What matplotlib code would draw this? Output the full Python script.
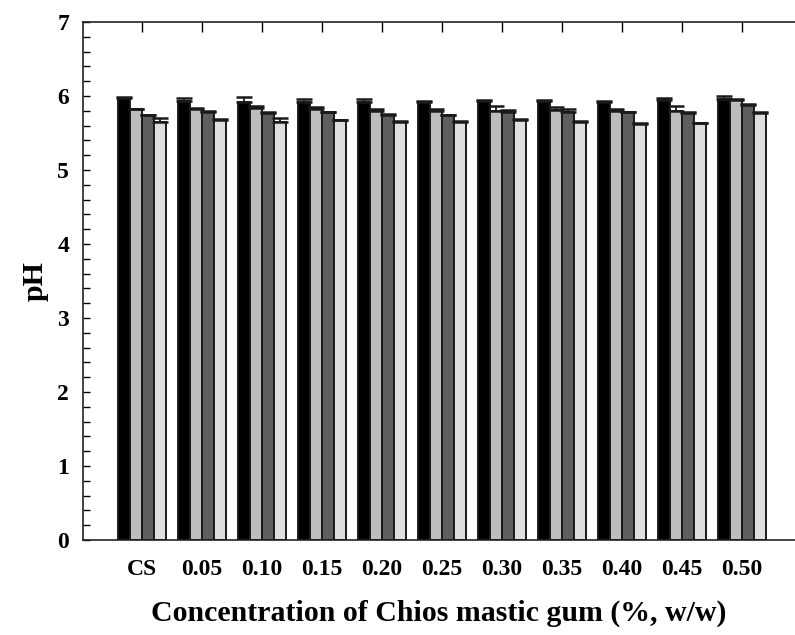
import numpy as np
import matplotlib.pyplot as plt
from matplotlib.ticker import MultipleLocator

# Concentrations on the x axis
categories = ["CS", "0.05", "0.10", "0.15", "0.20", "0.25", "0.30", "0.35", "0.40", "0.45", "0.50"]

# pH values for the four storage times (one list per bar shade)
ph_day1 = [5.97, 5.93, 5.92, 5.92, 5.92, 5.92, 5.93, 5.93, 5.92, 5.95, 5.96]
ph_day2 = [5.82, 5.83, 5.84, 5.82, 5.80, 5.80, 5.80, 5.81, 5.80, 5.80, 5.95]
ph_day3 = [5.74, 5.79, 5.77, 5.78, 5.75, 5.74, 5.78, 5.78, 5.78, 5.77, 5.88]
ph_day4 = [5.65, 5.68, 5.65, 5.67, 5.65, 5.65, 5.68, 5.65, 5.62, 5.63, 5.77]

# upper error bars
err_day1 = [0.01, 0.04, 0.06, 0.04, 0.04, 0.01, 0.01, 0.01, 0.01, 0.02, 0.04]
err_day2 = [0.01, 0.01, 0.02, 0.03, 0.03, 0.03, 0.07, 0.04, 0.03, 0.07, 0.01]
err_day3 = [0.01, 0.01, 0.01, 0.01, 0.01, 0.01, 0.03, 0.04, 0.01, 0.02, 0.01]
err_day4 = [0.05, 0.01, 0.05, 0.01, 0.01, 0.01, 0.01, 0.01, 0.01, 0.01, 0.01]

colors = ["#000000", "#bdbdbd", "#5f5f5f", "#dedede"]

plt.rcParams["font.family"] = ["Liberation Serif", "DejaVu Serif"]
plt.rcParams["font.weight"] = "bold"

fig = plt.figure(figsize=(7.95, 6.35), dpi=100)
ax = fig.add_axes([83 / 795, 1 - 540 / 635, 1 - 83 / 795, (540 - 22) / 635])

x = np.arange(len(categories))
width = 0.2
series = [ph_day1, ph_day2, ph_day3, ph_day4]
errors = [err_day1, err_day2, err_day3, err_day4]
for i, (vals, errs) in enumerate(zip(series, errors)):
    pos = x + (i - 1.5) * width
    ax.bar(pos, vals, width, color=colors[i], edgecolor="#1a1a1a", linewidth=1.4, zorder=2)
    ax.errorbar(pos, vals, yerr=[np.zeros(len(errs)), errs], fmt="none",
                ecolor="#1a1a1a", elinewidth=1.3, capsize=6, capthick=1.8, zorder=3)

ax.set_xlim(-0.983, (795 - 142) / 60)
ax.set_ylim(0, 7)
ax.set_xticks(x)
ax.set_xticklabels(categories, fontsize=17, fontweight="bold")
ax.yaxis.set_major_locator(MultipleLocator(1))
ax.yaxis.set_minor_locator(MultipleLocator(0.2))
ax.tick_params(axis="y", which="both", direction="in", length=5, width=1, labelsize=17, pad=10)
ax.tick_params(axis="x", direction="in", length=0, pad=14)
for lbl in ax.get_yticklabels():
    lbl.set_fontweight("bold")

# top ticks at the category positions
sec = ax.secondary_xaxis("top")
sec.set_xticks(x)
sec.set_xticklabels([])
sec.tick_params(direction="in", length=7, width=1)
sec.spines["top"].set_visible(False)

ax.spines["right"].set_visible(False)
for s in ["left", "bottom", "top"]:
    ax.spines[s].set_linewidth(1.2)
    ax.spines[s].set_color("#222222")

ax.set_xlabel("Concentration of Chios mastic gum (%, w/w)", fontsize=21.5, fontweight="bold", labelpad=14)
ax.set_ylabel("pH", fontsize=21.5, fontweight="bold", labelpad=6)

fig.savefig("out.png", dpi=100)
